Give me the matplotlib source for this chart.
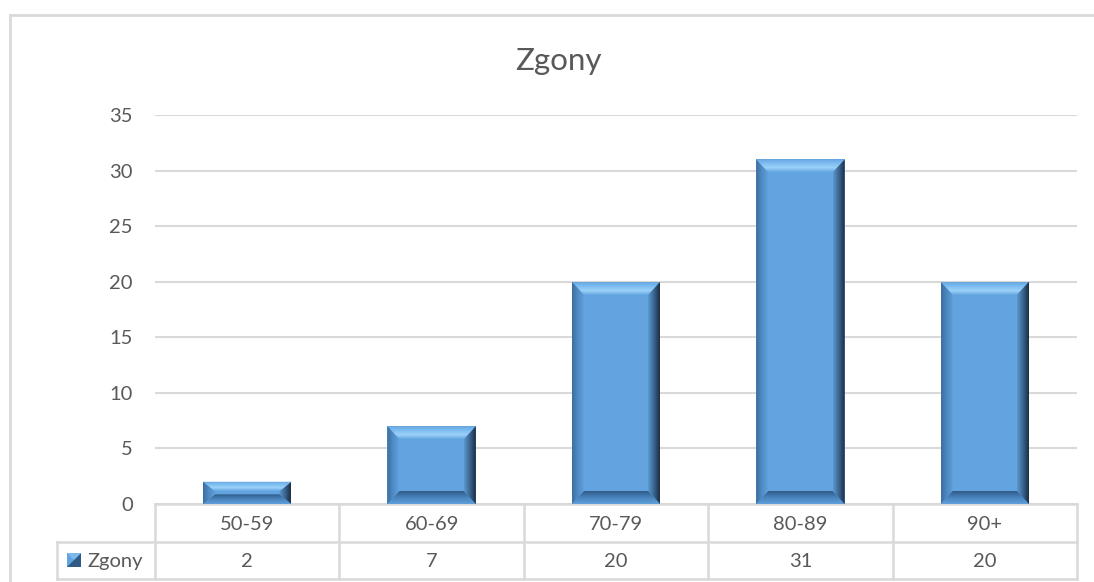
import matplotlib
matplotlib.use("Agg")
import numpy as np
import matplotlib.pyplot as plt
from matplotlib.patches import Polygon, Rectangle
import matplotlib.transforms as mtransforms
from matplotlib.colors import to_rgb

categories = ["50-59", "60-69", "70-79", "80-89", "90+"]
values = [2, 7, 20, 31, 20]
series_name = "Zgony"
title = "Zgony"
yticks = [0, 5, 10, 15, 20, 25, 30, 35]

W, H = 1094, 582
plt.rcParams['font.family'] = ['Lato', 'DejaVu Sans']
fig = plt.figure(figsize=(W / 100, H / 100), dpi=100)

L, R, T, B = 155, 1077, 115, 504
ax = fig.add_axes([L / W, 1 - B / H, (R - L) / W, (B - T) / H])
ov = fig.add_axes([0, 0, 1, 1], zorder=-1)
ov.set_xlim(0, W)
ov.set_ylim(H, 0)
ov.axis('off')

grid_c = '#d9d9d9'
text_c = '#595959'
fs = 14.5

n = len(categories)
ax.set_xlim(-0.5, n - 0.5)
ax.set_ylim(0, 35)
ax.set_yticks(yticks)
ax.set_xticks([])
for s in ax.spines.values():
    s.set_visible(False)
ax.tick_params(axis='y', length=0, pad=16, labelsize=fs, labelcolor=text_c)
ax.yaxis.grid(True, color=grid_c, linewidth=1.5)
ax.set_axisbelow(True)


def grad(colors, horizontal, N=64):
    cs = np.array([to_rgb(c) for c in colors])
    t = np.linspace(0, 1, N)
    pos = np.linspace(0, 1, len(cs))
    arr = np.stack([np.interp(t, pos, cs[:, k]) for k in range(3)], axis=-1)
    if horizontal:
        return arr[None, :, :]
    return arr[:, None, :]


bw = 0.48
face = '#62a3e0'
px_x = (R - L) / n
px_y = (B - T) / 35.0
dx = 12 / px_x
dy = 13 / px_y
bars = ax.bar(range(n), values, width=bw, color=face, edgecolor='none', zorder=2)
for b in bars:
    x0 = b.get_x(); x1 = x0 + b.get_width(); v = b.get_height()
    d = min(dy, v / 2.3)
    specs = [
        # polygon, gradient colours, horizontal?, extent (left,right,bottom,top)
        ([(x0, v), (x1, v), (x1 - dx, v - d), (x0 + dx, v - d)],
         ['#66a6e0', '#9ad2f9', '#7fbdf0', '#66a6e0'], False, (x0, x1, v - d, v)),
        ([(x0, 0), (x1, 0), (x1 - dx, d), (x0 + dx, d)],
         ['#5f9fdb', '#4a84bd', '#2f5b89'], False, (x0, x1, 0, d)),
        ([(x0, 0), (x0 + dx, d), (x0 + dx, v - d), (x0, v)],
         ['#3d6d9e', '#4f8bc4', '#60a0dc'], True, (x0, x0 + dx, 0, v)),
        ([(x1, 0), (x1, v), (x1 - dx, v - d), (x1 - dx, d)],
         ['#5a98d2', '#3b6590', '#1b2d42'], True, (x1 - dx, x1, 0, v)),
    ]
    for pts, cols, horiz, ext in specs:
        img = grad(cols, horiz)
        if not horiz:
            img = img[::-1]  # origin upper: row 0 is top
        poly = Polygon(pts, closed=True, facecolor='none', edgecolor='none', transform=ax.transData)
        ax.add_patch(poly)
        im = ax.imshow(img, extent=ext, aspect='auto', zorder=3, interpolation='bilinear')
        im.set_clip_path(poly)
ax.set_xlim(-0.5, n - 0.5)
ax.set_ylim(0, 35)

# title
ov.text(558, 70, title, ha='center', va='baseline', fontsize=22.5, color=text_c)

# chart outer border
ov.plot([10, W], [15, 15], color=grid_c, lw=2)
ov.plot([10, 10], [15, H], color=grid_c, lw=2)

# data table
blend = mtransforms.blended_transform_factory(ax.transData, ov.transData)
r1, r2, r3 = 504, 542, 579
lab_left = 57
ov.plot([lab_left, R], [r2, r2], color=grid_c, lw=1.8)
ov.plot([lab_left, R], [r3, r3], color=grid_c, lw=1.8)
ov.plot([L, R], [r1, r1], color=grid_c, lw=1.8)
ov.plot([lab_left, lab_left], [r2, r3], color=grid_c, lw=1.8)
for i in range(n + 1):
    ov.plot([i - 0.5, i - 0.5], [r1, r3], color=grid_c, lw=1.8, transform=blend)
for i, (c, v) in enumerate(zip(categories, values)):
    ov.text(i, 530, c, ha='center', va='baseline', fontsize=fs, color=text_c, transform=blend)
    ov.text(i, 567, str(v), ha='center', va='baseline', fontsize=fs, color=text_c, transform=blend)

# legend key
kx, ky, ks = 67, 553, 14
ov.add_patch(Rectangle((kx, ky), ks, ks, facecolor=face, edgecolor='none'))
ov.add_patch(Polygon([(kx + ks, ky), (kx + ks, ky + ks), (kx, ky + ks)], closed=True, facecolor='#2f5a86', edgecolor='none'))
ov.add_patch(Polygon([(kx, ky), (kx + ks, ky), (kx + ks / 2, ky + ks / 2)], closed=True, facecolor='#7fb8ea', edgecolor='none'))
ov.text(87, 567, series_name, ha='left', va='baseline', fontsize=fs, color=text_c)

fig.savefig('out.png', dpi=100, facecolor='white')
